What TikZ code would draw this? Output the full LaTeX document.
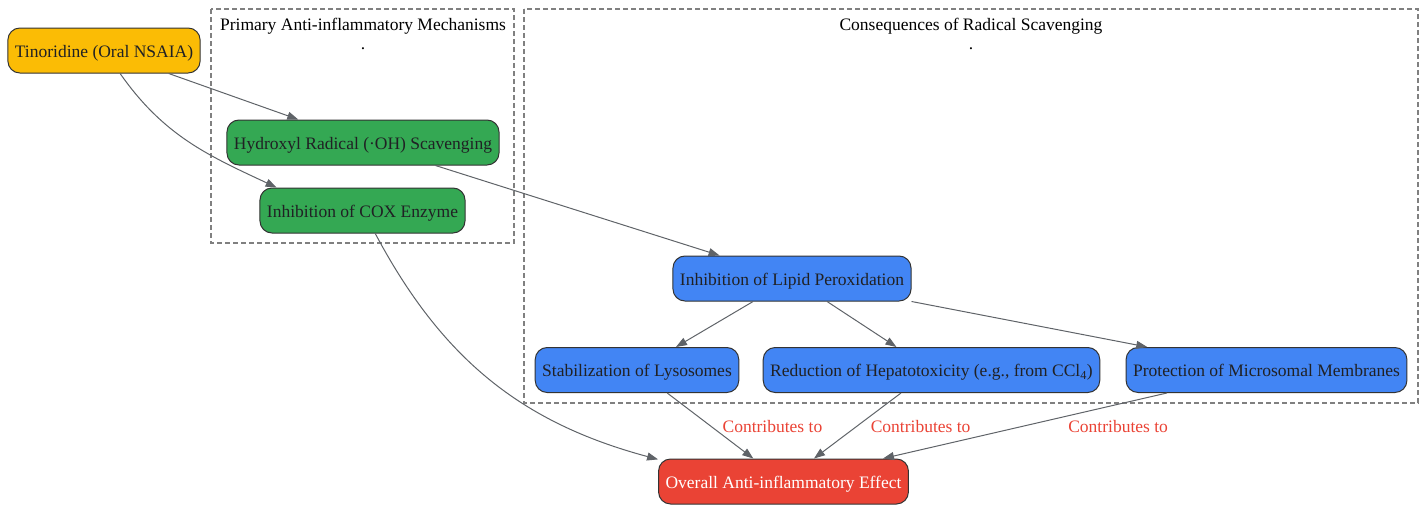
\documentclass[tikz,border=0pt]{standalone}
\usepackage{fontspec}
\setmainfont{Liberation Serif}
\usepackage{tikz}
\usetikzlibrary{arrows.meta}
\definecolor{tinoyellow}{HTML}{FBBC05}
\definecolor{tinogreen}{HTML}{34A853}
\definecolor{tinoblue}{HTML}{4285F4}
\definecolor{tinored}{HTML}{EA4335}
\definecolor{tinoedge}{HTML}{5F6368}
\definecolor{tinotext}{HTML}{202124}

\begin{document}
\begin{tikzpicture}[x=1pt,y=-1pt, node font=\fontsize{17.5}{20}\selectfont,
	box/.style={draw=black!80, line width=1pt, rounded corners=12pt, minimum height=45pt, inner xsep=7pt, text height=14pt, text depth=1pt, text=tinotext},
	cluster/.style={draw=black!50, line width=1.2pt, dash pattern=on 5pt off 3pt},
	link/.style={draw=tinoedge, line width=1pt, -{Triangle[length=11pt,width=8pt]}},
	lbl/.style={text=tinored, anchor=west}]
			\useasboundingbox (0,0) rectangle (1425,504);
			
			% clusters
			\draw[cluster] (211,9) rectangle (514,243);
			\draw[cluster] (524,9) rectangle (1418,403);
			\node (primtitle) at (363,26.5) {Primary Anti-inflammatory Mechanisms};
			\node (primdot) at (363,49) {.};
			\node (constitle) at (971,26.5) {Consequences of Radical Scavenging};
			\node (consdot) at (971,49) {.};
			
			% nodes
			\node[box, fill=tinoyellow] (tino) at (104,50.5) {Tinoridine (Oral NSAIA)};
			\node[box, fill=tinogreen] (hydroxyl) at (363,142.5) {Hydroxyl Radical (·OH) Scavenging};
			\node[box, fill=tinogreen] (cox) at (362.5,210.5) {Inhibition of COX Enzyme};
			\node[box, fill=tinoblue] (lipid) at (792,278.5) {Inhibition of Lipid Peroxidation};
			\node[box, fill=tinoblue] (lyso) at (637,370) {Stabilization of Lysosomes};
			\node[box, fill=tinoblue] (hepato) at (931.5,370) {Reduction of Hepatotoxicity (e.g., from CCl\textsubscript{4})};
			\node[box, fill=tinoblue] (micro) at (1266.5,370) {Protection of Microsomal Membranes};
			\node[box, fill=tinored, text=white] (overall) at (783.5,481.5) {Overall Anti-inflammatory Effect};
			
			% edges
			\draw[link] (tino) -- (hydroxyl);
			\draw[link] (tino.-55) to[out=-55,in=155] (cox.165);
			\draw[link] (hydroxyl) -- (lipid);
			\draw[link] (cox.-61) to[out=-62,in=165] (overall.170);
			\draw[link] (lipid) -- (lyso);
			\draw[link] (lipid) -- (hepato);
			\draw[link] (lipid) -- (micro);
			\draw[link] (lyso) -- node[lbl, xshift=6pt, yshift=-1pt] (lbllyso) {Contributes to} (overall);
			\draw[link] (hepato) -- node[lbl, xshift=7pt, yshift=-1pt] (lblhepato) {Contributes to} (overall);
			\draw[link] (micro) -- node[lbl, xshift=37pt, yshift=-1pt] (lblmicro) {Contributes to} (overall);
		\end{tikzpicture}
\end{document}
